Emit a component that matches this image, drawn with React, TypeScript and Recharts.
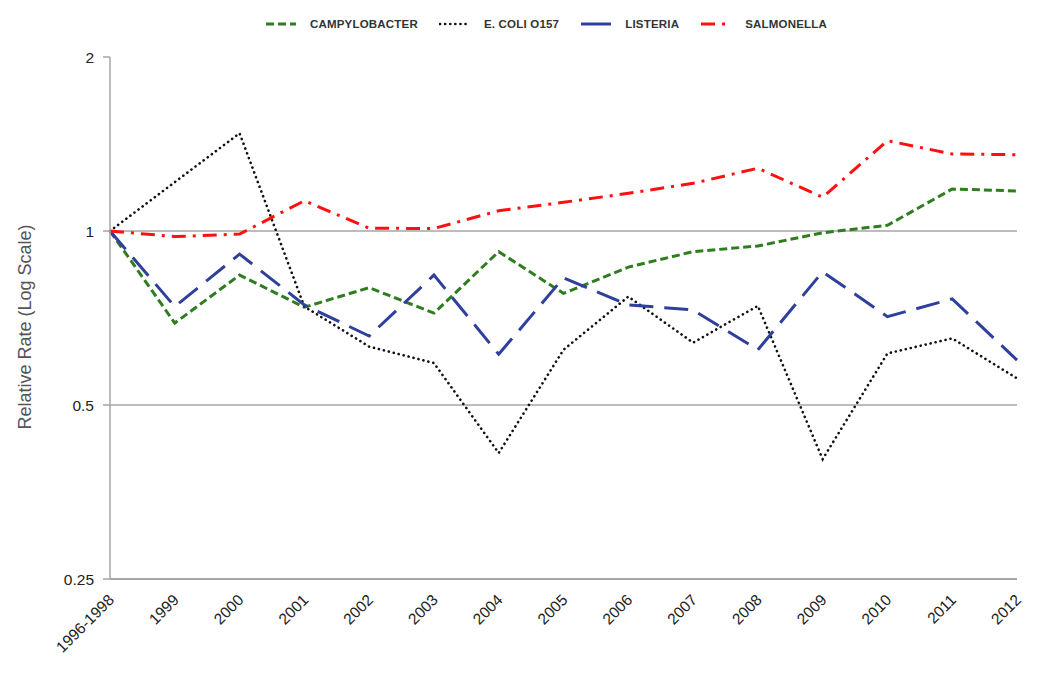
import { LineChart, Line, XAxis, YAxis, ReferenceLine, Legend } from 'recharts'

const years = ['1996-1998', '1999', '2000', '2001', '2002', '2003', '2004', '2005', '2006', '2007', '2008', '2009', '2010', '2011', '2012']
const campylobacter = [1, 0.693, 0.839, 0.738, 0.798, 0.721, 0.921, 0.78, 0.866, 0.921, 0.942, 0.993, 1.023, 1.182, 1.173]
const ecoli = [1, 1.215, 1.476, 0.74, 0.631, 0.591, 0.413, 0.623, 0.77, 0.641, 0.742, 0.403, 0.614, 0.652, 0.556]
const listeria = [1, 0.74, 0.912, 0.745, 0.658, 0.839, 0.612, 0.83, 0.745, 0.73, 0.623, 0.85, 0.711, 0.763, 0.598]
const salmonella = [1, 0.978, 0.988, 1.128, 1.011, 1.01, 1.084, 1.121, 1.162, 1.209, 1.284, 1.144, 1.433, 1.359, 1.355]
const yTicks = [0.25, 0.5, 1, 2]

const series = [
  { key: 'campy', name: 'CAMPYLOBACTER', color: '#2e7d1e', dash: '8 4', width: 3, cap: 'butt' },
  { key: 'ecoli', name: 'E. COLI O157', color: '#111111', dash: '0.1 5', width: 2.6, cap: 'round' },
  { key: 'listeria', name: 'LISTERIA', color: '#2e3f9c', dash: '24 11', width: 3, cap: 'butt' },
  { key: 'salmonella', name: 'SALMONELLA', color: '#ff1010', dash: '14 7 3 7', width: 3, cap: 'butt' },
]

const data = years.map((y, i) => ({
  year: y,
  campy: campylobacter[i],
  ecoli: ecoli[i],
  listeria: listeria[i],
  salmonella: salmonella[i],
}))

const font = '"Liberation Sans", Arial, sans-serif'

function LegendBox() {
  return (
    <div style={{ height: 49, display: 'flex', justifyContent: 'center', paddingLeft: 88, boxSizing: 'border-box' }}>
      {series.map(s => (
        <div key={s.key} style={{ display: 'flex', alignItems: 'center', height: 32, marginRight: 21 }}>
          <svg width={32} height={8} style={{ marginRight: 13 }}>
            <line x1={1} y1={4} x2={31} y2={4} stroke={s.color} strokeWidth={s.width}
              strokeDasharray={s.key === 'listeria' ? undefined : s.dash} strokeLinecap={s.cap as any} />
          </svg>
          <span style={{ fontFamily: font, fontSize: 11.5, fontWeight: 'bold', color: '#333', letterSpacing: 0.2 }}>{s.name}</span>
        </div>
      ))}
    </div>
  )
}

function XTick({ x, y, payload }: any) {
  return (
    <text x={x + 5} y={y + 14} transform={`rotate(-45 ${x + 5} ${y + 14})`} textAnchor="end"
      fontFamily={font} fontSize={15.5} fill="#222">{payload.value}</text>
  )
}

function YLabel({ viewBox }: any) {
  const cx = viewBox.x + 17
  const cy = viewBox.y + viewBox.height / 2 + 9
  return (
    <text x={cx} y={cy} transform={`rotate(-90 ${cx} ${cy})`} textAnchor="middle" dominantBaseline="central"
      fontFamily={font} fontSize={18} fill="#555">Relative Rate (Log Scale)</text>
  )
}

export default function App() {
  return (
    <LineChart width={1034} height={660} data={data} margin={{ top: 0, right: 25, left: 0, bottom: 0 }}>
      <Legend verticalAlign="top" content={() => <LegendBox />} />
      <ReferenceLine y={1} stroke="#a6a6a6" strokeWidth={1.5} />
      <ReferenceLine y={0.5} stroke="#a6a6a6" strokeWidth={1.5} />
      <XAxis dataKey="year" height={89} tickLine={false} interval={0} stroke="#a6a6a6" strokeWidth={2} tick={<XTick />} />
      <YAxis type="number" scale="log" domain={[0.25, 2]} ticks={yTicks} allowDataOverflow width={102}
        stroke="#a6a6a6" strokeWidth={1.5} tickSize={7} tickMargin={9}
        tick={{ fontFamily: font, fontSize: 15.5, fill: '#222' }} label={<YLabel />} />
      {series.map(s => (
        <Line key={s.key} dataKey={s.key} name={s.name} type="linear" stroke={s.color} strokeWidth={s.width}
          strokeDasharray={s.dash} strokeLinecap={s.cap as any} dot={false} isAnimationActive={false} />
      ))}
    </LineChart>
  )
}
